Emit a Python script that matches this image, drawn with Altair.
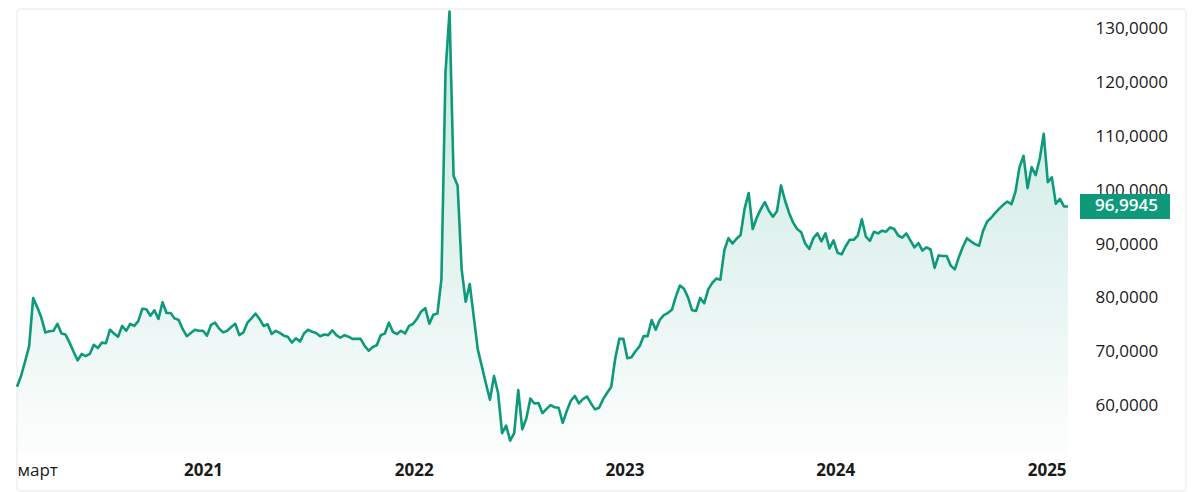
import altair as alt
import pandas as pd

# ---- data (weekly USD/RUB readings) ----
START_DATE = "2020-02-14"
VALUES = [
    63.5, 65.5, 68.2, 71.0, 80.0, 78.3, 76.4, 73.6, 73.8, 73.9,
    75.2, 73.4, 73.2, 71.7, 70.0, 68.4, 69.6, 69.2, 69.6, 71.3,
    70.7, 71.7, 71.6, 74.1, 73.4, 72.8, 74.8, 73.9, 75.2, 74.8,
    75.7, 78.0, 77.9, 76.7, 77.7, 76.1, 79.2, 77.2, 77.2, 76.2,
    75.9, 74.2, 72.9, 73.5, 74.1, 73.9, 73.9, 73.0, 75.0, 75.4,
    74.3, 73.6, 73.9, 74.6, 75.2, 73.1, 73.6, 75.4, 76.2, 77.1,
    76.1, 74.8, 75.1, 73.3, 73.9, 73.5, 73.0, 72.8, 71.7, 72.5,
    71.9, 73.4, 74.1, 73.7, 73.5, 72.9, 73.2, 73.1, 74.0, 73.1,
    72.6, 73.1, 72.8, 72.4, 72.4, 72.4, 71.1, 70.2, 70.9, 71.2,
    73.1, 73.4, 75.4, 73.7, 73.3, 73.9, 73.4, 74.8, 75.2, 76.2,
    77.5, 78.1, 75.2, 76.9, 77.1, 83.5, 121.9, 133.2, 102.7, 100.9,
    85.3, 79.3, 82.6, 76.5, 70.4, 67.3, 64.1, 61.1, 65.5, 62.4,
    54.9, 56.3, 53.5, 54.9, 62.9, 55.6, 57.6, 61.3, 60.4, 60.5,
    58.6, 59.4, 60.1, 59.7, 59.6, 56.8, 59.0, 60.9, 61.8, 60.4,
    61.2, 61.7, 60.4, 59.3, 59.6, 61.2, 62.4, 63.5, 68.8, 72.4,
    72.4, 68.8, 69.0, 70.1, 71.0, 72.9, 72.9, 75.9, 74.1, 75.9,
    76.8, 77.2, 77.8, 80.3, 82.3, 81.7, 80.1, 77.7, 77.6, 80.0,
    79.0, 81.6, 82.8, 83.6, 83.4, 88.9, 91.1, 90.1, 91.0, 91.7,
    96.6, 99.5, 92.8, 94.9, 96.5, 97.8, 96.2, 95.1, 96.1, 100.9,
    98.1, 95.8, 94.0, 92.8, 92.2, 90.1, 89.1, 91.1, 92.0, 90.5,
    92.0, 89.2, 90.7, 88.4, 88.1, 89.6, 90.8, 90.8, 91.6, 94.6,
    91.4, 90.6, 92.3, 92.0, 92.5, 92.3, 93.1, 92.8, 91.6, 91.2,
    92.0, 90.7, 89.4, 90.2, 88.8, 89.4, 89.0, 85.6, 87.9, 87.8,
    87.8, 86.0, 85.3, 87.6, 89.5, 91.1, 90.5, 90.0, 89.7, 92.5,
    94.2, 94.9, 95.8, 96.6, 97.3, 97.9, 97.4, 99.7, 104.3, 106.4,
    100.4, 104.3, 102.8, 105.8, 110.5, 101.5, 102.4, 97.5, 98.4, 97.0,
    96.9945,
]
LAST_LABEL = "96,9945"
Y_TICKS = [60, 70, 80, 90, 100, 110, 120, 130]
Y_DOMAIN = [51.2, 133.3]
X_TICKS = [(2020, 2, 14), (2021, 1, 1), (2022, 1, 1), (2023, 1, 1), (2024, 1, 1), (2025, 1, 1)]

# ---- styling ----
FONT = "Open Sans"
GREEN = "#0e9a7a"
TEXT = "#1a1a1a"

dates = pd.date_range(START_DATE, periods=len(VALUES), freq="7D")
df = pd.DataFrame({"date": dates, "value": VALUES})
last = df.tail(1).copy()
last["label"] = LAST_LABEL

x_enc = alt.X(
    "date:T",
    title=None,
    scale=alt.Scale(nice=False),
    axis=alt.Axis(
        values=[alt.DateTime(year=y, month=m, date=d) for (y, m, d) in X_TICKS],
        labelExpr="month(datum.value) == 0 ? timeFormat(datum.value, '%Y') : 'март'",
        labelFontWeight={"condition": {"test": "month(datum.value) == 0", "value": "bold"}, "value": "normal"},
        labelFont=FONT,
        labelFontSize=17,
        labelColor=TEXT,
        labelPadding=9,
        labelFlush=True,
        labelOverlap=False,
        grid=False,
        domain=False,
        ticks=False,
        tickSize=0,
    ),
)
y_enc = alt.Y(
    "value:Q",
    title=None,
    scale=alt.Scale(domain=Y_DOMAIN, nice=False, zero=False),
    axis=alt.Axis(
        orient="right",
        values=Y_TICKS,
        labelExpr="replace(format(datum.value, '.4f'), '.', ',')",
        labelFont=FONT,
        labelFontSize=17,
        labelColor=TEXT,
        labelPadding=27,
        labelAlign="left",
        grid=False,
        domain=False,
        ticks=False,
        tickSize=0,
    ),
)

frame = alt.Chart(alt.Data(values=[{}])).mark_rect(
    fillOpacity=0, stroke="#e8e8e8", strokeWidth=1, cornerRadius=3
).encode(x=alt.value(0), x2=alt.value(1169), y=alt.value(-2), y2=alt.value(480))

area = alt.Chart(df).mark_area(
    color=alt.LinearGradient(
        gradient="linear",
        stops=[
            alt.GradientStop(color="rgba(14,154,122,0.24)", offset=0),
            alt.GradientStop(color="rgba(14,154,122,0.13)", offset=0.5),
            alt.GradientStop(color="rgba(14,154,122,0.01)", offset=1),
        ],
        x1=0, x2=0, y1=0, y2=1,
    )
).encode(x=x_enc, y=y_enc, y2=alt.Y2Datum(Y_DOMAIN[0]))

line = alt.Chart(df).mark_line(color=GREEN, strokeWidth=2.6, strokeJoin="round").encode(x=x_enc, y=y_enc)

box = alt.Chart(last).mark_point(
    shape="M-1,-0.2778L1,-0.2778L1,0.2778L-1,0.2778Z",
    size=8100,
    filled=True,
    fill=GREEN,
    opacity=1,
    strokeWidth=0,
    xOffset=57,
).encode(x=x_enc, y=y_enc)

label = alt.Chart(last).mark_text(
    align="left", baseline="middle", dx=27, color="white",
    font=FONT, fontSize=17, fontWeight=600,
).encode(x=x_enc, y=y_enc, text="label:N")

chart = alt.layer(frame, area, line, box, label).properties(
    width=1051,
    height=442,
    padding={"left": 7, "top": 0, "right": 5, "bottom": 0},
).configure_view(strokeWidth=0)

chart.save("out.html", embed_options={"renderer": "svg", "actions": False})
